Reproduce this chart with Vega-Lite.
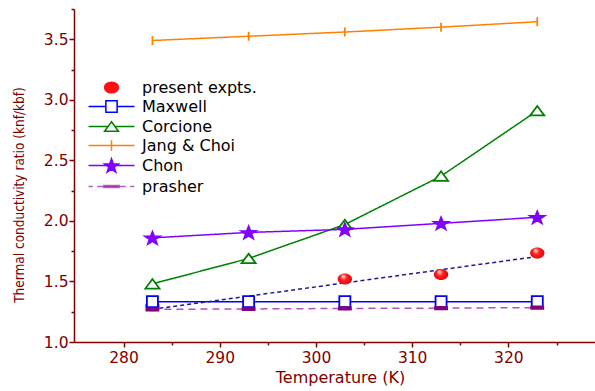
{
  "$schema": "https://vega.github.io/schema/vega-lite/v6.json",
  "autosize": {"type": "none"},
  "padding": {"left": 74, "top": 9, "right": 0, "bottom": 49},
  "width": 521,
  "height": 333,
  "background": "white",
  "config": {
    "view": {"stroke": null},
    "font": "DejaVu Sans",
    "axis": {
      "domainColor": "#800000", "domainWidth": 1.5,
      "tickColor": "#800000", "tickWidth": 1.5,
      "labelColor": "#800000", "labelFont": "DejaVu Sans", "labelFontSize": 15.5,
      "titleColor": "#800000", "titleFont": "DejaVu Sans", "titleFontWeight": "normal",
      "grid": false
    },
    "legend": {
      "labelFont": "DejaVu Sans", "labelFontSize": 16, "labelColor": "black",
      "symbolSize": 300, "symbolStrokeWidth": 1.5, "labelOffset": 21, "rowPadding": 1,
      "labelLimit": 300
    }
  },
  "data": {
    "values": [
      {"series": "present expts.", "T": 283, "v": 1.30},
      {"series": "present expts.", "T": 303, "v": 1.52},
      {"series": "present expts.", "T": 313, "v": 1.557},
      {"series": "present expts.", "T": 323, "v": 1.734},
      {"series": "Maxwell", "T": 283, "v": 1.333},
      {"series": "Maxwell", "T": 293, "v": 1.333},
      {"series": "Maxwell", "T": 303, "v": 1.333},
      {"series": "Maxwell", "T": 313, "v": 1.333},
      {"series": "Maxwell", "T": 323, "v": 1.333},
      {"series": "Corcione", "T": 283, "v": 1.48},
      {"series": "Corcione", "T": 293, "v": 1.69},
      {"series": "Corcione", "T": 303, "v": 1.97},
      {"series": "Corcione", "T": 313, "v": 2.37},
      {"series": "Corcione", "T": 323, "v": 2.91},
      {"series": "Jang & Choi", "T": 283, "v": 3.49},
      {"series": "Jang & Choi", "T": 293, "v": 3.525},
      {"series": "Jang & Choi", "T": 303, "v": 3.56},
      {"series": "Jang & Choi", "T": 313, "v": 3.60},
      {"series": "Jang & Choi", "T": 323, "v": 3.645},
      {"series": "Chon", "T": 283, "v": 1.86},
      {"series": "Chon", "T": 293, "v": 1.905},
      {"series": "Chon", "T": 303, "v": 1.93},
      {"series": "Chon", "T": 313, "v": 1.98},
      {"series": "Chon", "T": 323, "v": 2.03},
      {"series": "prasher", "T": 283, "v": 1.27},
      {"series": "prasher", "T": 293, "v": 1.273},
      {"series": "prasher", "T": 303, "v": 1.277},
      {"series": "prasher", "T": 313, "v": 1.28},
      {"series": "prasher", "T": 323, "v": 1.284},
      {"series": "fit", "T": 283, "v": 1.27},
      {"series": "fit", "T": 323, "v": 1.706}
    ]
  },
  "encoding": {
    "x": {
      "field": "T", "type": "quantitative",
      "scale": {"domain": [274.85, 329.0], "nice": false, "zero": false},
      "axis": {
        "title": "Temperature (K)", "titleFontSize": 16, "titleX": 266, "titlePadding": 4,
        "values": [280, 285, 290, 295, 300, 305, 310, 315, 320, 325],
        "labelExpr": "datum.value % 10 === 0 ? datum.label : ''",
        "tickSize": {"condition": {"test": "datum.value % 10 === 0", "value": 5}, "value": 3},
        "labelPadding": 3, "labelFlush": false, "labelOverlap": false
      }
    },
    "y": {
      "field": "v", "type": "quantitative",
      "scale": {"domain": [1, 3.75], "nice": false, "zero": false},
      "axis": {
        "title": "Thermal conductivity ratio (knf/kbf)", "titleFontSize": 13.5, "titleFont": "DejaVu Sans Condensed",
        "titleX": -55, "titleY": 185.5, "titleAngle": -90, "titleAlign": "center", "titleBaseline": "middle",
        "values": [1, 1.25, 1.5, 1.75, 2, 2.25, 2.5, 2.75, 3, 3.25, 3.5, 3.75],
        "format": ".1f",
        "labelExpr": "abs(datum.value*2 - round(datum.value*2)) < 0.001 ? datum.label : ''",
        "tickSize": {"condition": {"test": "abs(datum.value*2 - round(datum.value*2)) < 0.001", "value": 5}, "value": 3},
        "labelPadding": 1, "labelFlush": false, "labelOverlap": false
      }
    }
  },
  "layer": [
    {
      "data": {"values": [{"edge": "top"}]},
      "mark": {"type": "rule", "color": "#800000", "strokeWidth": 1.5},
      "encoding": {
        "x": {"datum": 274.85, "type": "quantitative"},
        "x2": {"datum": 329.0},
        "y": {"datum": 3.75, "type": "quantitative"}
      }
    },
    {
      "transform": [{"filter": {"field": "series", "oneOf": ["Maxwell", "Corcione", "Jang & Choi", "Chon", "prasher", "fit"]}}],
      "mark": {"type": "line", "strokeWidth": 1.5},
      "encoding": {
        "color": {
          "field": "series", "type": "nominal", "legend": null,
          "scale": {"domain": ["Maxwell", "Corcione", "Jang & Choi", "Chon", "prasher", "fit"],
                    "range": ["#0000ff", "#008000", "#ff8000", "#8000ff", "#b050c0", "#1a1a9a"]}
        },
        "strokeDash": {
          "field": "series", "type": "nominal", "legend": null,
          "scale": {"domain": ["Maxwell", "Corcione", "Jang & Choi", "Chon", "prasher", "fit"],
                    "range": [[1, 0], [1, 0], [1, 0], [1, 0], [7, 5], [4, 3]]}
        }
      }
    },
    {
      "transform": [{"filter": {"field": "series", "equal": "present expts."}}],
      "mark": {
        "type": "point", "filled": true, "opacity": 1, "size": 144,
        "shape": "M-1.2,0A1.2,0.92 0 1,0 1.2,0A1.2,0.92 0 1,0 -1.2,0Z",
        "strokeWidth": 0,
        "fill": {"gradient": "radial", "x1": 0.38, "y1": 0.3, "r1": 0.02, "x2": 0.5, "y2": 0.5, "r2": 0.6,
                 "stops": [{"offset": 0, "color": "#ffe0e0"}, {"offset": 0.35, "color": "#ff2020"}, {"offset": 1, "color": "#d00000"}]}
      }
    },
    {
      "transform": [{"filter": {"field": "series", "oneOf": ["Maxwell", "Corcione", "Jang & Choi", "Chon", "prasher"]}}],
      "mark": {"type": "point", "opacity": 1, "size": 144, "strokeWidth": 1.8},
      "encoding": {
        "shape": {
          "field": "series", "type": "nominal", "legend": null,
          "scale": {"domain": ["Maxwell", "Corcione", "Jang & Choi", "Chon", "prasher"],
                    "range": [
                      "M-0.92,-0.92H0.92V0.92H-0.92Z",
                      "M0,-0.8L1.17,0.78H-1.17Z",
                      "M0,-0.75V0.75",
                      "M0,-0.996L0.298,-0.252L1.208,-0.235L0.483,0.241L0.747,0.994L0,0.545L-0.747,0.994L-0.483,0.241L-1.208,-0.235L-0.298,-0.252Z",
                      "M-1,-0.2H1V0.2H-1Z"
                    ]}
        },
        "fill": {
          "field": "series", "type": "nominal", "legend": null,
          "scale": {"domain": ["Maxwell", "Corcione", "Jang & Choi", "Chon", "prasher"],
                    "range": ["#ffffff", "#ffffff", "transparent", "#8000ff", "#800080"]}
        },
        "stroke": {
          "field": "series", "type": "nominal", "legend": null,
          "scale": {"domain": ["Maxwell", "Corcione", "Jang & Choi", "Chon", "prasher"],
                    "range": ["#0000ff", "#008000", "#ff8000", "#8000ff", "#800080"]}
        }
      }
    },
    {
      "transform": [{"filter": "false"}],
      "mark": {"type": "point", "opacity": 1, "strokeWidth": 1.5},
      "encoding": {
        "shape": {
          "field": "series", "type": "nominal",
          "legend": {"orient": "none", "legendX": 28, "legendY": 69, "title": null},
          "scale": {"domain": ["present expts.", "Maxwell", "Corcione", "Jang & Choi", "Chon", "prasher"],
                    "range": [
                      "M-0.8,0A0.8,0.62 0 1,0 0.8,0A0.8,0.62 0 1,0 -0.8,0Z",
                      "M-2.65,0H-0.65M0.65,0H2.65M-0.65,-0.65H0.65V0.65H-0.65Z",
                      "M-2.65,0H-0.4M0.4,0H2.65M0,-0.55L0.8,0.55H-0.8Z",
                      "M-2.65,0H2.65M0,-0.6V0.6",
                      "M-2.65,0H2.65M0,-0.769L0.2,-0.195L0.808,-0.182L0.323,0.186L0.5,0.768L0,0.421L-0.5,0.768L-0.323,0.186L-0.808,-0.182L-0.2,-0.195Z",
                      "M-2.65,0H-2.15M-1.65,0H-0.9M0.9,0H1.65M2.15,0H2.65M-0.9,-0.12H0.9V0.12H-0.9Z"
                    ]}
        },
        "fill": {
          "field": "series", "type": "nominal",
          "legend": {"orient": "none", "legendX": 28, "legendY": 69, "title": null},
          "scale": {"domain": ["present expts.", "Maxwell", "Corcione", "Jang & Choi", "Chon", "prasher"],
                    "range": ["#ff1010", "#ffffff", "#ffffff", "transparent", "#8000ff", "#800080"]}
        },
        "stroke": {
          "field": "series", "type": "nominal",
          "legend": {"orient": "none", "legendX": 28, "legendY": 69, "title": null},
          "scale": {"domain": ["present expts.", "Maxwell", "Corcione", "Jang & Choi", "Chon", "prasher"],
                    "range": ["#ff1010", "#0000ff", "#008000", "#ff8000", "#8000ff", "#b060c0"]}
        }
      }
    }
  ],
  "resolve": {"scale": {"shape": "independent", "fill": "independent", "stroke": "independent"}}
}
